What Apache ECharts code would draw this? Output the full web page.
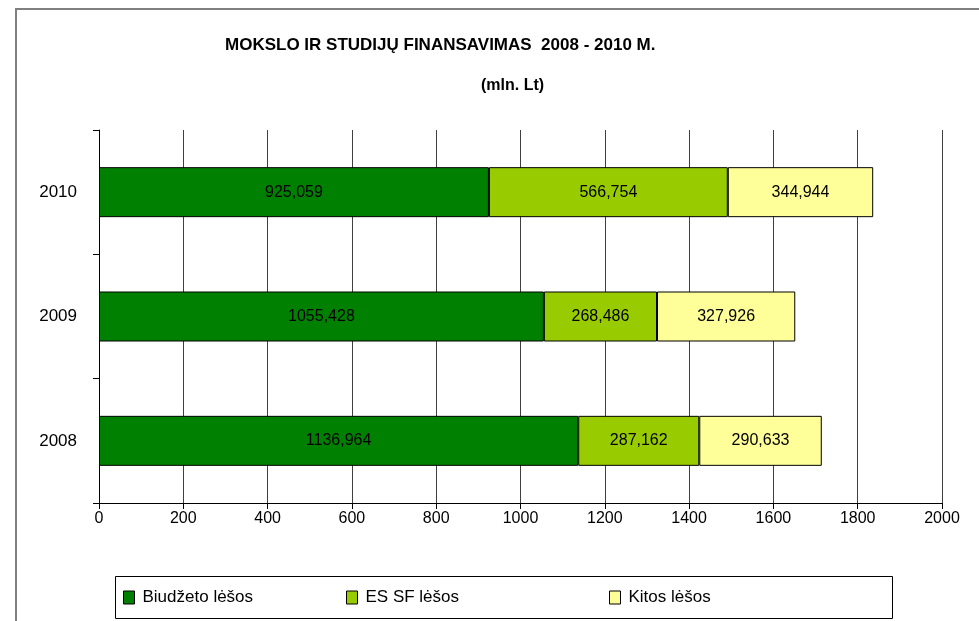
<!DOCTYPE html>
<html>
<head>
<meta charset="utf-8">
<script src="https://cdn.jsdelivr.net/npm/echarts@6/dist/echarts.min.js"></script>
<style>
html, body { margin: 0; padding: 0; background: #fff; }
#chart { width: 979px; height: 621px; }
</style>
</head>
<body>
<div id="chart"></div>
<script>
var years = ['2008', '2009', '2010'];
var seriesNames = ['Biudžeto lėšos', 'ES SF lėšos', 'Kitos lėšos'];
var biudzetas = [1136.964, 1055.428, 925.059];
var esSf = [287.162, 268.486, 566.754];
var kitos = [290.633, 327.926, 344.944];
var colors = ['#008000', '#99CC00', '#FFFF99'];

var font = 'Liberation Sans, Arial, sans-serif';

function fmt(p) {
    return p.value.toFixed(3).replace('.', ',');
}

var chart = echarts.init(document.getElementById('chart'));

var values = [biudzetas, esSf, kitos];
var series = [];
for (var i = 0; i < seriesNames.length; i++) {
    series.push({
        name: seriesNames[i],
        type: 'bar',
        stack: 'total',
        barWidth: 50,
        data: values[i],
        itemStyle: { color: colors[i], borderColor: '#000', borderWidth: 1 },
        label: {
            show: true,
            position: 'inside',
            color: '#000',
            fontFamily: font,
            fontSize: 16,
            formatter: fmt
        }
    });
}

// three separate legend blocks so each item sits where it does in the original
var legendX = [123, 346, 609];
var legends = [];
for (var j = 0; j < seriesNames.length; j++) {
    legends.push({
        data: [seriesNames[j]],
        left: legendX[j],
        top: 589,
        itemWidth: 11,
        itemHeight: 13,
        padding: 0,
        icon: 'rect',
        itemStyle: { borderColor: '#000', borderWidth: 1 },
        textStyle: { fontFamily: font, fontSize: 17, color: '#000', padding: [0, 0, 0, 3] }
    });
}

var option = {
    backgroundColor: '#fff',
    animation: false,
    title: [{
        text: 'MOKSLO IR STUDIJŲ FINANSAVIMAS  2008 - 2010 M.',
        left: 225,
        top: 37,
        padding: 0,
        textStyle: { fontFamily: font, fontSize: 17, fontWeight: 'bold', color: '#000' }
    }, {
        text: '(mln. Lt)',
        left: 481,
        top: 78,
        padding: 0,
        textStyle: { fontFamily: font, fontSize: 16, fontWeight: 'bold', color: '#000' }
    }],
    legend: legends,
    graphic: [{
        type: 'rect',
        shape: { x: 16, y: 9, width: 1000, height: 700 },
        style: { fill: 'none', stroke: '#808080', lineWidth: 2 },
        silent: true
    }, {
        type: 'rect',
        shape: { x: 115.5, y: 576.5, width: 777, height: 42 },
        style: { fill: 'none', stroke: '#000', lineWidth: 1 },
        silent: true,
        z: -1
    }],
    grid: { left: 99, right: 37, top: 130, bottom: 118 },
    xAxis: {
        type: 'value',
        min: 0,
        max: 2000,
        interval: 200,
        axisLine: { show: true, lineStyle: { color: '#000' } },
        axisTick: { show: true, length: 6, lineStyle: { color: '#000' } },
        axisLabel: {
            fontFamily: font, fontSize: 16, color: '#000', margin: 8,
            formatter: function (v) { return String(v); }
        },
        splitLine: { show: true, lineStyle: { color: '#404040', width: 1 } }
    },
    yAxis: {
        type: 'category',
        data: years,
        axisLine: { show: true, lineStyle: { color: '#000' } },
        axisTick: { show: true, length: 6, lineStyle: { color: '#000' } },
        axisLabel: { fontFamily: font, fontSize: 17, color: '#000', margin: 22 }
    },
    series: series
};

chart.setOption(option);
</script>
</body>
</html>
